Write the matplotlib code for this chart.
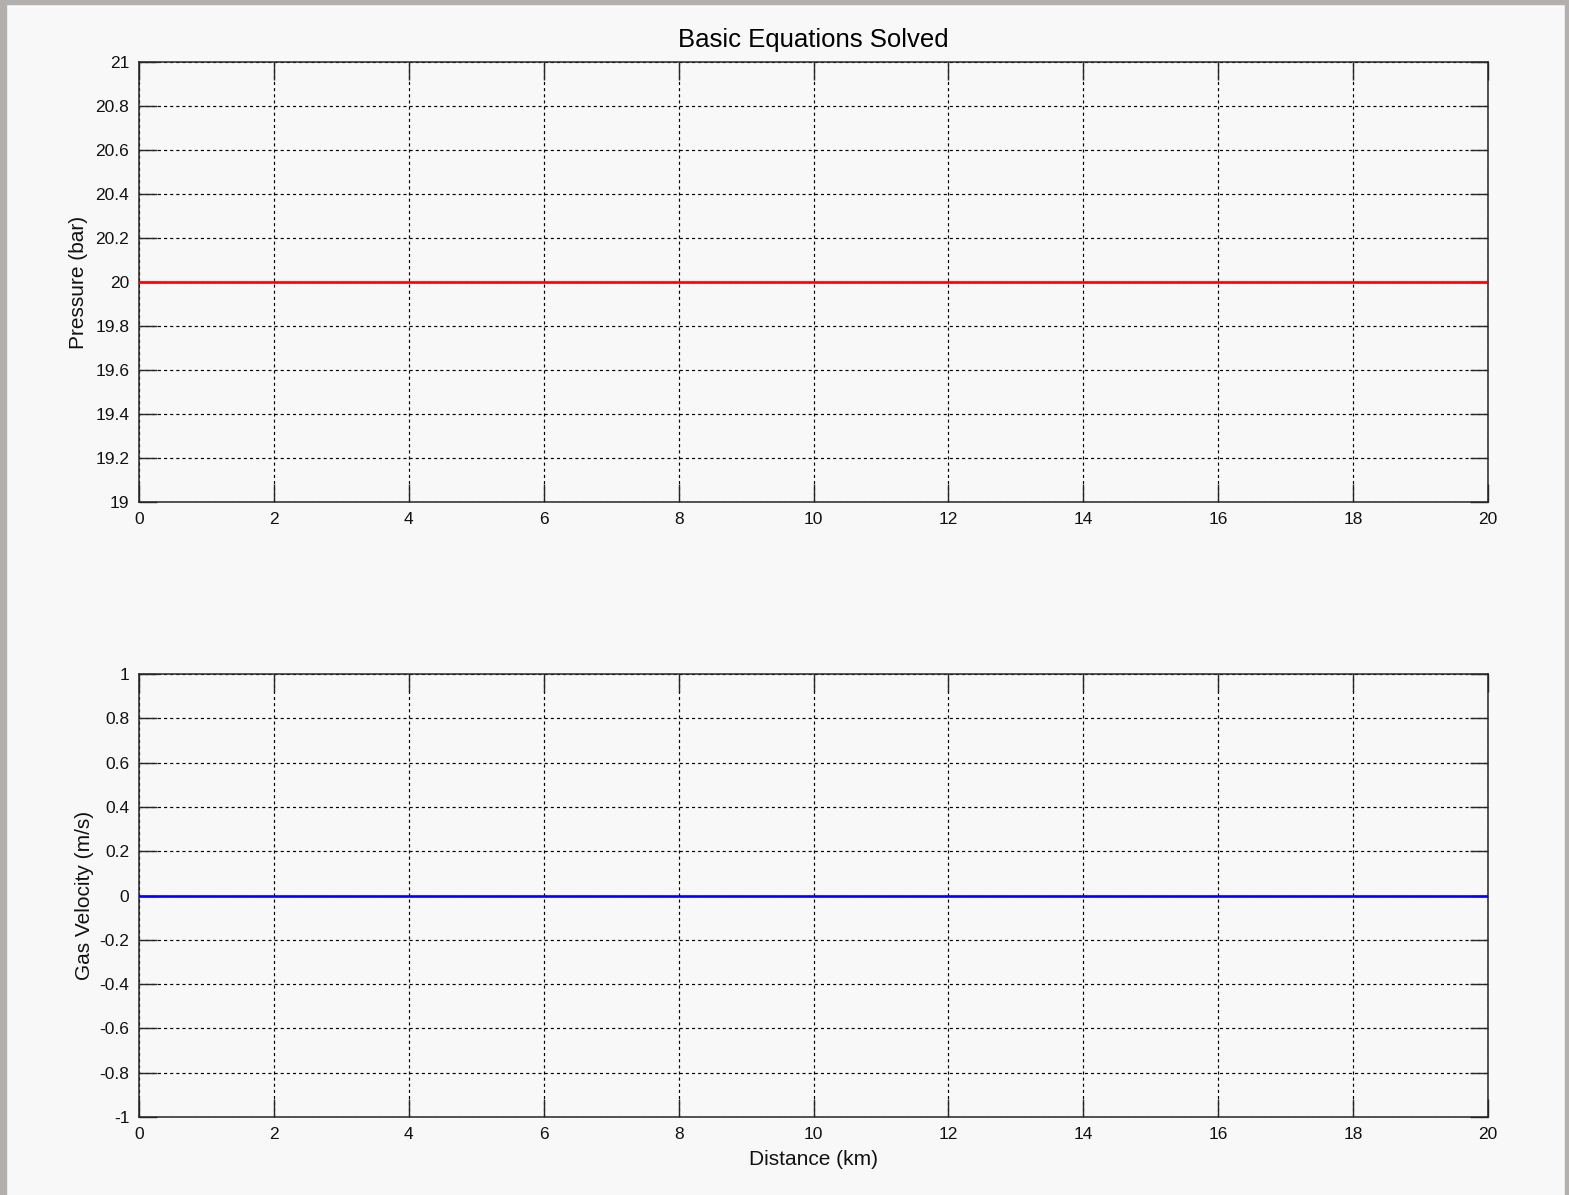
import matplotlib
matplotlib.use("Agg")
import matplotlib.pyplot as plt
from matplotlib.patches import Rectangle

# Data
distance_km = [0, 20]
pressure_bar = [20, 20]
gas_velocity = [0, 0]

x_ticks = [0, 2, 4, 6, 8, 10, 12, 14, 16, 18, 20]
p_ticks = [19, 19.2, 19.4, 19.6, 19.8, 20, 20.2, 20.4, 20.6, 20.8, 21]
p_labels = ["19", "19.2", "19.4", "19.6", "19.8", "20", "20.2", "20.4", "20.6", "20.8", "21"]
v_ticks = [-1, -0.8, -0.6, -0.4, -0.2, 0, 0.2, 0.4, 0.6, 0.8, 1]
v_labels = ["-1", "-0.8", "-0.6", "-0.4", "-0.2", "0", "0.2", "0.4", "0.6", "0.8", "1"]

title = "Basic Equations Solved"
xlabel = "Distance (km)"
ylabel_top = "Pressure (bar)"
ylabel_bot = "Gas Velocity (m/s)"

plt.rcParams['font.family'] = ['Liberation Sans', 'DejaVu Sans']

W, H = 1569, 1195
bg = "#f8f8f8"
fig = plt.figure(figsize=(W / 100, H / 100), dpi=100, facecolor=bg)

# gray window border
border = "#b2afac"
fig.patches.append(Rectangle((0, 0), 6 / W, 1, transform=fig.transFigure, color=border, zorder=0))
fig.patches.append(Rectangle((1 - 4 / W, 0), 4 / W, 1, transform=fig.transFigure, color=border, zorder=0))
fig.patches.append(Rectangle((0, 1 - 4 / H), 1, 4 / H, transform=fig.transFigure, color=border, zorder=0))

left = 139 / W
width = (1488 - 139) / W
ax1 = fig.add_axes([left, 1 - 502 / H, width, 440 / H])
ax2 = fig.add_axes([left, 1 - 1117 / H, width, 443 / H])

grid_style = dict(color="#000000", linewidth=0.85, linestyle=(0, (2.6, 2.6)))

def style(ax, yticks, ylabels, ylim):
    ax.set_facecolor(bg)
    ax.set_xlim(0, 20)
    ax.set_ylim(*ylim)
    ax.set_xticks(x_ticks)
    ax.set_xticklabels([str(t) for t in x_ticks])
    ax.set_yticks(yticks)
    ax.set_yticklabels(ylabels)
    ax.grid(True, **grid_style)
    ax.set_axisbelow(True)
    ax.tick_params(direction="in", length=13, width=1.0, color="#262626",
                   labelsize=12.5, labelcolor="#111111", top=True, right=True,
                   pad=7)
    for s in ax.spines.values():
        s.set_color("#262626")
        s.set_linewidth(1.1)

style(ax1, p_ticks, p_labels, (19, 21))
style(ax2, v_ticks, v_labels, (-1, 1))

ax1.plot(distance_km, pressure_bar, color="#ff0000", linewidth=1.9, zorder=3)
ax2.plot(distance_km, gas_velocity, color="#0000ff", linewidth=1.9, zorder=3)

ax1.set_title(title, fontsize=18.5, pad=11, color="#000000")
ax1.set_ylabel(ylabel_top, fontsize=15, labelpad=5, color="#111111")
ax2.set_ylabel(ylabel_bot, fontsize=15, labelpad=4, color="#111111")
ax2.set_xlabel(xlabel, fontsize=15, labelpad=6, color="#111111")

fig.savefig("out.png", dpi=100, facecolor=bg)
